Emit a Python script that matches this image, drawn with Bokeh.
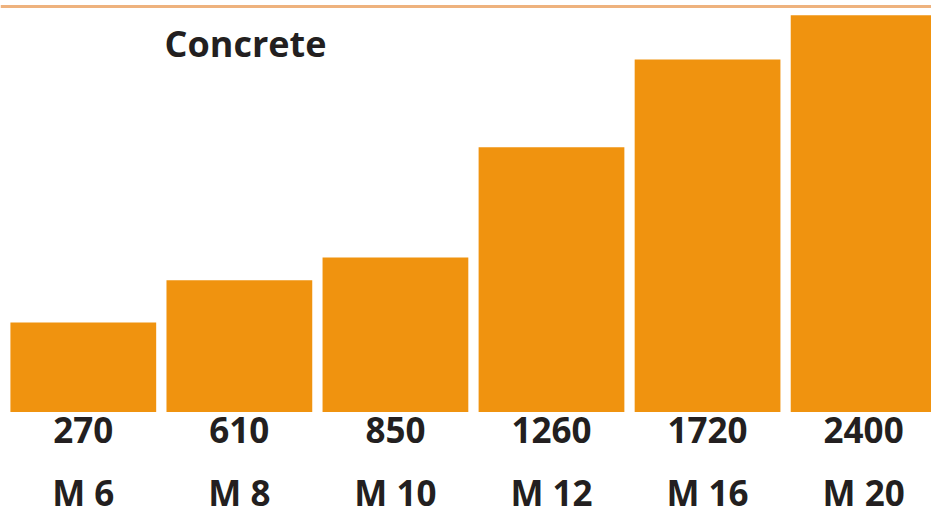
from bokeh.plotting import figure
from bokeh.models import Range1d, Label, Span, ColumnDataSource
from bokeh.core.properties import value
from bokeh.embed import file_html
from bokeh.resources import INLINE

# Data
grades = ["M 6", "M 8", "M 10", "M 12", "M 16", "M 20"]
values = [270, 610, 850, 1260, 1720, 2400]
# drawn bar heights (the bars are schematic, not proportional to values)
bar_heights = [91, 134, 157, 269, 358, 403]

W, H = 931, 515
BAR = "#F0930F"
TXT = "#231F20"
FONT = "Open Sans"
FS = "35px"

idx = list(range(len(grades)))
src = ColumnDataSource(dict(
    x=idx,
    h=bar_heights,
    vals=[str(v) for v in values],
    grades=grades,
    zero=[0] * len(idx),
))

p = figure(width=W, height=H, output_backend="svg", toolbar_location=None,
           x_range=Range1d(-0.5306, 5.435), y_range=Range1d(-105, 418),
           min_border=0, min_border_left=0, min_border_right=0,
           min_border_top=0, min_border_bottom=0)
p.axis.visible = False
p.grid.visible = False
p.outline_line_color = None
p.background_fill_color = "white"
p.border_fill_color = "white"

p.vbar(x="x", top="h", bottom=0, width=0.934, source=src,
       fill_color=BAR, line_color=None)

p.text(x="x", y="zero", text="vals", source=src,
       text_font=value(FONT), text_font_style="bold",
       text_font_size=FS, text_color=TXT,
       text_align="center", text_baseline="alphabetic", y_offset=18)
p.text(x="x", y="zero", text="grades", source=src,
       text_font=value(FONT), text_font_style="bold",
       text_font_size=FS, text_color=TXT,
       text_align="center", text_baseline="alphabetic", y_offset=80)

p.add_layout(Span(location=412, dimension="width",
                  line_color="#EEB27E", line_width=3))

p.add_layout(Label(x=164, y=472, x_units="screen", y_units="screen",
                   text="Concrete", text_font=FONT, text_font_style="bold",
                   text_font_size="36px", text_color=TXT,
                   text_baseline="alphabetic", text_align="left"))

open("out.html", "w").write(file_html(p, INLINE))
